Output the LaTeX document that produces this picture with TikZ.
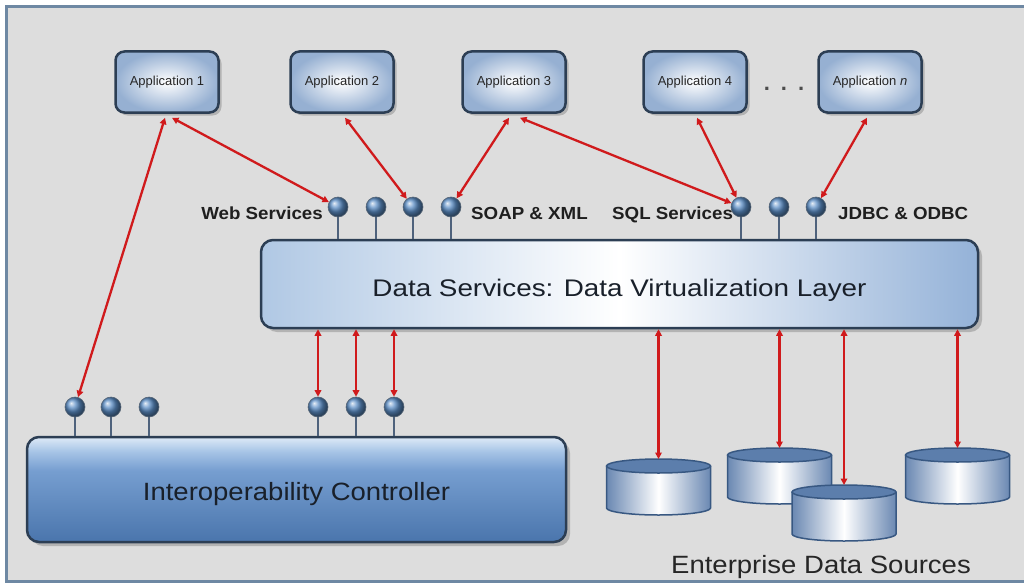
\documentclass[tikz,border=0pt]{standalone}
\usepackage{fontspec}
\setmainfont{Liberation Sans}
\newfontfamily\lblfont[FakeStretch=1.07]{Liberation Sans}
\newfontfamily\bigfont[FakeStretch=1.1]{Liberation Sans}
\newfontfamily\dsfont[FakeStretch=1.16]{Liberation Sans}
\usetikzlibrary{arrows.meta,shadows,calc}

\definecolor{bgray}{RGB}{221,221,221}
\definecolor{frameblue}{RGB}{110,136,163}
\definecolor{boxborder}{RGB}{44,62,84}
\definecolor{appouter}{RGB}{150,176,210}
\definecolor{dsleft}{RGB}{176,200,228}
\definecolor{dsright}{RGB}{148,178,216}
\definecolor{ic1}{RGB}{222,234,247}
\definecolor{ic2}{RGB}{166,196,230}
\definecolor{ic3}{RGB}{118,158,208}
\definecolor{ic4}{RGB}{74,117,172}
\definecolor{ballblue}{RGB}{92,142,198}
\definecolor{stemcol}{RGB}{78,98,124}
\definecolor{arrowred}{RGB}{208,26,28}
\definecolor{cylside}{RGB}{106,136,178}
\definecolor{cyltop}{RGB}{92,126,172}
\definecolor{cylline}{RGB}{56,88,130}
\definecolor{txtdark}{RGB}{25,32,42}

\pgfdeclareverticalshading{interop}{100bp}{color(0bp)=(ic4); color(25bp)=(ic4); color(59bp)=(ic3); color(68bp)=(ic2); color(75bp)=(ic1); color(100bp)=(ic1)}

\newcommand{\dbcyl}[3]{%
  \shade[left color=cylside, right color=cylside, middle color=white]
    (#1-52,#2) -- (#1-52,#2+42) arc[start angle=180,end angle=360,x radius=52pt,y radius=7pt] -- (#1+52,#2) -- cycle;
  \draw[cylline, line width=1.5pt]
    (#1-52,#2) -- (#1-52,#2+42) arc[start angle=180,end angle=360,x radius=52pt,y radius=7pt] -- (#1+52,#2);
  \draw[fill=cyltop, draw=cylline, line width=1.5pt] (#1,#2) ellipse [x radius=52pt, y radius=7pt];
  \coordinate (#3) at (#1,#2-7);
}

\tikzset{
  appbox/.style={draw=boxborder, line width=2.5pt, rounded corners=9pt,
    minimum width=103pt, minimum height=61pt, inner color=white, outer color=appouter,
    drop shadow={shadow xshift=3pt, shadow yshift=-3pt, opacity=0.45},
    font=\fontsize{13}{15}\selectfont, text=black!85},
  layerbox/.style={draw=boxborder, line width=2.5pt, rounded corners=12pt,
    drop shadow={shadow xshift=4pt, shadow yshift=-4pt, opacity=0.45}},
  ballnode/.style={circle, minimum size=20pt, inner sep=0pt, shading=ball,
    ball color=ballblue, draw=boxborder!80, line width=0.6pt},
  stemline/.style={draw=stemcol, line width=2pt},
  rarrow/.style={draw=arrowred, line width=2.3pt,
    {Triangle[length=6.5pt,width=6.5pt]}-{Triangle[length=6.5pt,width=6.5pt]}},
  svclabel/.style={inner sep=0pt, font=\lblfont\bfseries\fontsize{17.5}{18}\selectfont, text=black!88},
}

\begin{document}
\begin{tikzpicture}[x=1pt,y=-1pt]
\useasboundingbox (0,0) rectangle (1024,586);
\fill[white] (0,0) rectangle (1024,586);
\draw[fill=bgray, draw=frameblue, line width=3pt] (6.5,6.5) rectangle (1030,581.5);

% application boxes
\node[appbox] (a1) at (167,82) {Application 1};
\node[appbox] (a2) at (342,82) {Application 2};
\node[appbox] (a3) at (514,82) {Application 3};
\node[appbox] (a4) at (695,82) {Application 4};
\node[appbox] (an) at (870,82) {Application \textit{n}};
\node[anchor=base, inner sep=0pt, font=\bfseries\fontsize{22}{22}\selectfont, text=black!70] (dots) at (784,90) {.\hspace{11pt}.\hspace{11pt}.};

% layers
\node[layerbox, minimum width=717pt, minimum height=88pt, left color=dsleft, right color=dsright, middle color=white,
  font=\dsfont\fontsize{24}{26}\selectfont, text=txtdark] (ds) at (619.5,284) {\raisebox{-12pt}[0pt][0pt]{Data Services: Data Virtualization Layer}};
\node[layerbox, minimum width=539pt, minimum height=105pt, shading=interop,
  font=\bigfont\fontsize{25}{27}\selectfont, text=txtdark] (ic) at (296.5,489.5) {\raisebox{-10.5pt}[0pt][0pt]{Interoperability Controller}};

% data sources
\dbcyl{658.5}{466}{c1}
\dbcyl{779.5}{455}{c2}
\dbcyl{957.5}{455}{c4}
\dbcyl{844}{492}{c3}
\node[anchor=base, inner sep=0pt, font=\bigfont\fontsize{25}{27}\selectfont, text=black!85] (eds) at (821,573) {Enterprise Data Sources};

% service labels
\node[svclabel, anchor=base east] (lws) at (323,219) {Web Services};
\node[svclabel, anchor=base west] (lsoap) at (471,219) {SOAP \& XML};
\node[svclabel, anchor=base west] (lsql) at (612,219) {SQL Services};
\node[svclabel, anchor=base west] (ljdbc) at (838,219) {JDBC \& ODBC};

% top sockets
\foreach \n/\x in {t1/338,t2/376,t3/413,t4/451,t5/741,t6/779,t7/816}{
  \node[ballnode] (\n) at (\x,207) {};
  \draw[stemline] (\n.south) -- (ds.north -| \n);
}
% bottom sockets
\foreach \n/\x in {b1/75,b2/111,b3/149,b4/318,b5/356,b6/394}{
  \node[ballnode] (\n) at (\x,407) {};
  \draw[stemline] (\n.south) -- (ic.north -| \n);
}

% arrows
\draw[rarrow] ([xshift=5pt,yshift=-4pt]a1.south) -- (t1);
\draw[rarrow] ([xshift=-2pt,yshift=-4pt]a1.south) -- (b1);
\draw[rarrow] ([xshift=3pt,yshift=-4pt]a2.south) -- (t3);
\draw[rarrow] ([xshift=-5pt,yshift=-4pt]a3.south) -- (t4);
\draw[rarrow] ([xshift=6pt,yshift=-4pt]a3.south) -- (t5);
\draw[rarrow] ([xshift=2pt,yshift=-4pt]a4.south) -- (t5);
\draw[rarrow] ([xshift=-3pt,yshift=-4pt]an.south) -- (t7);

\draw[rarrow] (ds.south -| b4) -- (b4);
\draw[rarrow] (ds.south -| b5) -- (b5);
\draw[rarrow] (ds.south -| b6) -- (b6);

\draw[rarrow] (ds.south -| c1) -- (c1);
\draw[rarrow] (ds.south -| c2) -- (c2);
\draw[rarrow] (ds.south -| c3) -- (c3);
\draw[rarrow] (ds.south -| c4) -- (c4);
\end{tikzpicture}
\end{document}
